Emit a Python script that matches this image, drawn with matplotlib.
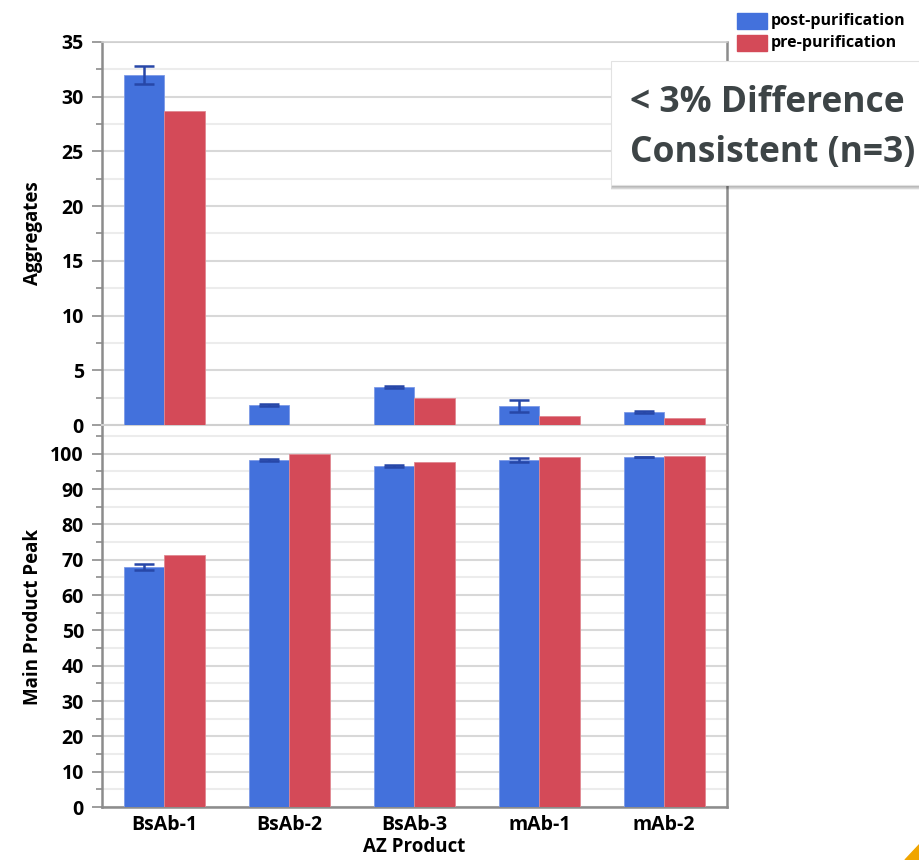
import numpy as np
import matplotlib.pyplot as plt
from matplotlib.patches import Polygon, Rectangle
from matplotlib.ticker import MultipleLocator

plt.rcParams['font.family'] = ['Open Sans', 'DejaVu Sans']

products = ['BsAb-1', 'BsAb-2', 'BsAb-3', 'mAb-1', 'mAb-2']

# aggregates (%)
agg_post = [32.0, 1.83, 3.47, 1.74, 1.19]
agg_post_err = [0.8, 0.08, 0.05, 0.53, 0.08]
agg_pre = [28.7, 0.0, 2.47, 0.82, 0.64]

# main product peak (%)
main_post = [67.9, 98.3, 96.6, 98.3, 99.1]
main_post_err = [0.9, 0.2, 0.2, 0.6, 0.1]
main_pre = [71.4, 100.0, 97.7, 99.2, 99.4]

blue = '#4371dc'
red = '#d44a58'
err_col = '#2747a8'
grid_major = '#d8d8d8'
grid_minor = '#ececec'
spine_col = '#8c8c8c'

fig = plt.figure(figsize=(9.2, 8.6), dpi=100)
ax_top = fig.add_axes([0.1109, 0.5058, 0.679, 0.4454])
ax_bot = fig.add_axes([0.1109, 0.0616, 0.679, 0.4419])

x = np.arange(len(products))
w = 0.325


def draw_panel(ax, post, post_err, pre, ymax, major, minor, label):
    ax.bar(x - w / 2, post, w, color=blue, edgecolor='#7d9ae6', linewidth=0.6, zorder=3)
    ax.bar(x + w / 2, pre, w, color=red, edgecolor='#e08891', linewidth=0.6, zorder=3)
    ax.errorbar(x - w / 2, post, yerr=post_err, fmt='none', ecolor=err_col,
                elinewidth=1.8, capsize=7, capthick=1.8, zorder=4)
    ax.set_xlim(-0.5, len(products) - 0.5)
    ax.set_ylim(0, ymax)
    ax.yaxis.set_major_locator(MultipleLocator(major))
    ax.yaxis.set_minor_locator(MultipleLocator(minor))
    ax.grid(axis='y', which='major', color=grid_major, lw=1.5, zorder=0)
    ax.grid(axis='y', which='minor', color=grid_minor, lw=1.5, zorder=0)
    ax.tick_params(axis='y', which='major', length=7, width=1.2, color=spine_col,
                   labelsize=14, pad=6)
    ax.tick_params(axis='y', which='minor', length=4, width=1.2, color=spine_col)
    ax.tick_params(axis='x', length=0)
    for t in ax.get_yticklabels():
        t.set_fontweight('bold')
    for s in ('left', 'right'):
        ax.spines[s].set_color(spine_col)
        ax.spines[s].set_linewidth(1.8)
    ax.set_ylabel(label, fontsize=13.5, fontweight='bold')
    ax.yaxis.set_label_coords(-0.095, 0.5)


draw_panel(ax_top, agg_post, agg_post_err, agg_pre, 35, 5, 2.5, 'Aggregates')
draw_panel(ax_bot, main_post, main_post_err, main_pre, 107.6, 10, 5, 'Main Product Peak')

ax_top.spines['top'].set_color('#cfcfcf')
ax_top.spines['top'].set_linewidth(1.2)
ax_top.spines['bottom'].set_color('#d0d0d0')
ax_top.spines['bottom'].set_linewidth(1.5)
ax_top.set_xticks(x)
ax_top.set_xticklabels([])

ax_bot.spines['top'].set_visible(False)
ax_bot.spines['bottom'].set_color(spine_col)
ax_bot.spines['bottom'].set_linewidth(1.8)
ax_bot.set_xticks(x)
ax_bot.set_xticklabels(products, fontsize=14, fontweight='bold')
ax_bot.tick_params(axis='x', pad=6)
ax_bot.set_xlabel('AZ Product', fontsize=13.5, fontweight='bold', labelpad=1)

# legend in the top right corner
for i, (name, col) in enumerate([('post-purification', blue), ('pre-purification', red)]):
    yb = 1 - (29 + 22 * i) / 860
    fig.patches.append(Rectangle((737 / 920, yb), 30 / 920, 16 / 860, color=col,
                                 transform=fig.transFigure, figure=fig))
    fig.text(771 / 920, yb + 8 / 860, name, fontsize=11.5, fontweight='bold',
             va='center', ha='left')

# callout box with drop shadow
bx, by, bw, bh = 611 / 920, 1 - 185 / 860, 330 / 920, 124 / 860
for k, a in enumerate([0.05, 0.05, 0.06, 0.07, 0.08]):
    off = (5 - k) / 920
    fig.patches.append(Rectangle((bx - 0.5 * off + 2 / 920, by - off * 0.9 - 1 / 860),
                                 bw + off, bh + off, color='k', alpha=a,
                                 transform=fig.transFigure, figure=fig, lw=0))
fig.patches.append(Rectangle((bx, by), bw, bh, facecolor='white', edgecolor='#e2e2e2',
                             lw=0.8, transform=fig.transFigure, figure=fig))
fig.text(630 / 920, 1 - 103 / 860, '< 3% Difference', fontsize=25.5, fontweight='bold',
         color='#3d4446', va='center', ha='left')
fig.text(630 / 920, 1 - 153 / 860, 'Consistent (n=3)', fontsize=25.5, fontweight='bold',
         color='#3d4446', va='center', ha='left')

# small corner marker
fig.patches.append(Polygon([(1.0, 0.0), (905 / 920, 0.0), (1.0, 16 / 860)], closed=True,
                           color='#f0a500', transform=fig.transFigure, figure=fig))

fig.savefig('out.png', dpi=100)
